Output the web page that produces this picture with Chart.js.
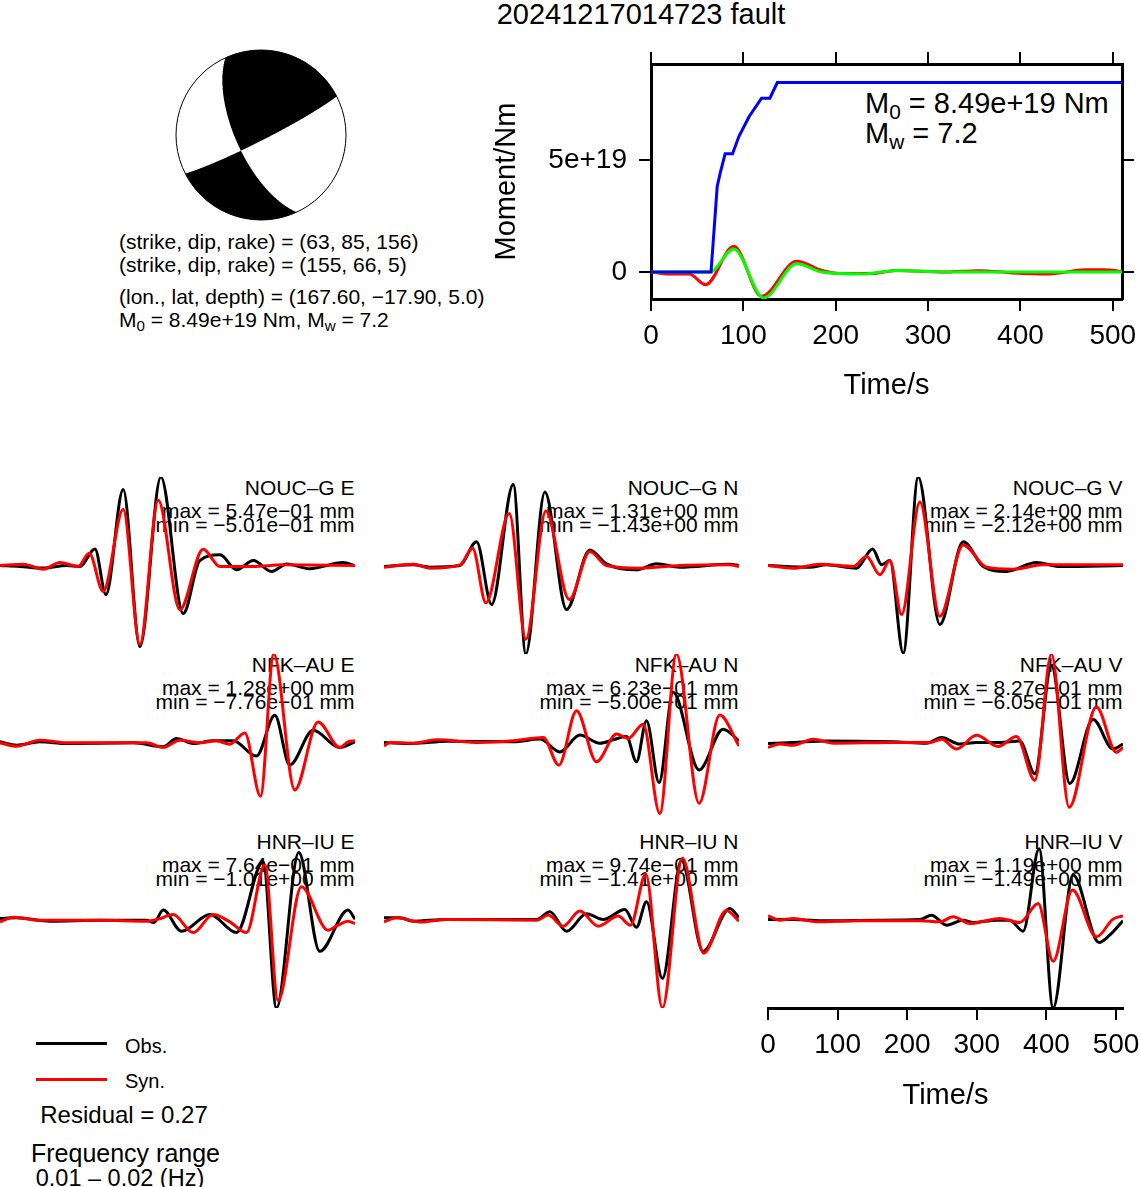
<!DOCTYPE html>
<html>
<head>
<meta charset="utf-8">
<title>20241217014723 fault</title>
<script src="https://cdn.jsdelivr.net/npm/chart.js@4.4.1/dist/chart.umd.min.js"></script>
<style>
  html, body { margin: 0; padding: 0; background: #fff; }
  body {
    position: relative; width: 1139px; height: 1187px; overflow: hidden;
    font-family: "Liberation Sans", Arial, Helvetica, sans-serif; color: #000;
  }
  canvas { position: absolute; z-index: 1; }
  .txt { position: absolute; white-space: nowrap; line-height: 1; z-index: 0; }
  .txt sub { font-size: 0.72em; vertical-align: -0.32em; line-height: 0; }
  .key { position: absolute; height: 2.5px; width: 71px; left: 36px; }
</style>
</head>
<body>
<script>
// ---- source parameters ------------------------------------------------
const eventId   = '20241217014723';
const plane1    = [63, 85, 156];      // strike, dip, rake
const plane2    = [155, 66, 5];
const location_ = [167.60, -17.90, 5.0];
const m0        = 8.49e19;
const mw        = 7.2;
const residual  = 0.27;
const freqBand  = [0.01, 0.02];

// ---- moment function (time s, moment Nm) ------------------------------
const timeTicks   = [0, 100, 200, 300, 400, 500];
const momentTicks = [0, 5e19];
const momentCum = [[0,0],[65,0],[71.7,3.84e19],[74.9,4.43e19],[80.3,5.30e19],[88.3,5.30e19],
  [95.1,6.07e19],[106.3,6.97e19],[119.7,7.79e19],[128.7,7.79e19],[136.8,8.49e19],[510,8.49e19]];
const rateRed = [[0,0],[18.8,-0.09e19],[41.3,-0.09e19],[59.2,-0.57e19],[89.7,1.15e19],[119.7,-1.09e19],
  [157.8,0.48e19],[184.8,0.07e19],[207.2,-0.07e19],[238.6,-0.07e19],[265.5,0.07e19],[319,0],
  [355,0.06e19],[391,-0.04e19],[431,-0.09e19],[470,0.1e19],[490,0.1e19],[510,0.03e19]];
const rateGreen = [[0,0],[63.7,0],[89.7,1.03e19],[122,-1.16e19],[157.8,0.37e19],[184.8,0],
  [229,-0.09e19],[265.5,0.07e19],[319,0],[510,0]];

// ---- waveforms (time s, displacement mm) ------------------------------
const stationNames = ['NOUC–G E','NOUC–G N','NOUC–G V','NFK–AU E','NFK–AU N','NFK–AU V','HNR–IU E','HNR–IU N','HNR–IU V'];
const ampMax = [0.547, 1.31, 2.14, 1.28, 0.623, 0.827, 0.764, 0.974, 1.19];
const ampMin = [-0.501, -1.43, -2.12, -0.776, -0.500, -0.605, -1.01, -1.41, -1.49];

const obsNoucE = [[0,0],[28.7,-0.006],[62.2,-0.016],[95.7,0],[114.8,-0.006],[136.4,0.102],[152.2,-0.180],
  [177,0.469],[201,-0.501],[231.1,0.547],[263.2,-0.297],[287,0.03],[316,0.066],[340,-0.027],[364,0.031],
  [390,-0.037],[412,0.01],[445,-0.02],[493,0.018],[510,0]];
const synNoucE = [[0,0],[33.5,0.008],[62.2,-0.023],[86.1,0.018],[112.4,-0.006],[128.2,0.076],[148.3,-0.160],
  [177,0.346],[201,-0.488],[227.3,0.404],[258.4,-0.273],[291.9,0.100],[315.8,-0.006],[363.7,-0.006],
  [406.7,0.004],[510,0]];
const obsNoucN = [[0,-0.016],[42.1,0.011],[66,-0.027],[109.1,0],[133,0.385],[154.6,-0.631],[185.7,1.31],
  [203.8,-1.43],[231.1,1.187],[262.2,-0.711],[295.7,0.251],[319.6,0.027],[362.7,-0.070],[391.4,0.027],
  [424.9,-0.027],[496.7,0.021],[510,0]];
const synNoucN = [[0,-0.027],[42.1,0.021],[66,-0.043],[109.1,0.011],[127.3,0.278],[146.4,-0.604],[180,0.840],
  [203.8,-1.19],[232.6,0.882],[266.1,-0.551],[295.7,0.225],[319.6,0],[367.5,-0.043],[424.9,0],
  [496.7,0.011],[510,-0.016]];
const obsNoucV = [[0,0],[60.3,-0.04],[84.2,0.016],[127.3,-0.064],[150.3,0.40],[163.2,0.016],[175.1,0.12],
  [194.3,-2.12],[215.8,2.14],[246.9,-1.426],[280.4,0.577],[309.1,-0.024],[342.6,-0.144],[385.7,0.072],
  [419.2,-0.024],[510,0]];
const synNoucV = [[0,0],[36.4,-0.064],[74.6,0.032],[122.5,-0.024],[141.6,0.216],[160.8,-0.224],[175.1,0.12],
  [191.9,-1.186],[218.2,1.538],[246.9,-1.226],[280.4,0.497],[313.9,-0.04],[352.2,-0.088],[395.2,0.016],
  [510,0.016]];
const obsNfkE = [[0,0.01],[23.9,-0.038],[57.4,0.01],[95.7,-0.014],[191.4,-0.005],[234.5,-0.062],[253.6,0.058],
  [277.5,-0.014],[306.2,0.024],[335,0.024],[368.4,-0.197],[394.8,0.393],[416.3,-0.326],[449.8,0.177],
  [488.1,-0.072],[510,0.01]];
const synNfkE = [[0,-0.005],[23.9,-0.053],[57.4,0.034],[95.7,-0.005],[210.5,-0.005],[234.5,-0.072],
  [258.4,0.034],[287.1,-0.005],[311,0.024],[330.2,-0.024],[351.7,0.139],[374.2,-0.776],[393.3,1.28],
  [423.5,-0.686],[457,0.297],[488.1,-0.072],[500,0.01],[510,0.024]];
const obsNfkN = [[0,0],[42.1,-0.007],[90,0.009],[185.7,0.005],[224,0.024],[252.7,-0.066],[281.4,0.052],
  [310.1,-0.005],[329.2,0.019],[348.4,0.042],[362.7,-0.136],[377.1,0.153],[395.2,-0.282],[415.3,0.353],
  [452.7,-0.193],[487.1,0.094],[510,0.012]];
const synNfkN = [[0,-0.024],[8.6,0],[42.1,-0.005],[75.6,0.019],[137.8,0],[185.7,0.012],[228.7,0.035],
  [251.2,-0.160],[276.6,0.224],[305.3,-0.136],[334,0.059],[350.7,0.028],[372.3,0.129],[396.2,-0.500],
  [420.1,0.623],[452.7,-0.428],[482.3,0.193],[510,-0.024]];
const obsNfkV = [[0,-0.009],[36.4,0],[84.2,0.015],[179.9,0.006],[227.8,-0.006],[249.3,0.046],[275.6,-0.015],
  [299.5,0],[333,0],[361.7,0.015],[383.3,-0.291],[407.2,0.72],[433.5,-0.383],[467,0.215],[495.7,-0.061],
  [510,-0.015]];
const synNfkV = [[0,-0.046],[17.2,-0.015],[36.4,-0.025],[65.1,0.031],[93.8,-0.006],[179.9,0],[232.5,0],
  [249.3,0.031],[270.8,-0.061],[299.5,0.067],[330.6,-0.037],[357,0.055],[383.3,-0.353],[407.2,0.827],
  [432.6,-0.605],[471.8,0.331],[500.5,-0.092],[510,-0.046]];
const obsHnrE = [[0,0.011],[23.9,0.019],[71.8,-0.019],[143.6,-0.008],[210.5,-0.008],[221.1,-0.034],
  [234.5,0.107],[260.8,-0.134],[301.5,0.057],[339.7,-0.149],[378,0.660],[397.2,-1.01],[429.2,0.764],
  [459.4,-0.363],[500,0.107],[510,0.004]];
const synHnrE = [[0,-0.027],[19.1,0.027],[57.4,-0.008],[143.6,-0.008],[210.5,-0.019],[227.3,0.004],
  [248.8,0.057],[277.5,-0.149],[306.2,0.057],[330.2,-0.027],[354.1,-0.149],[380.4,0.622],[399.5,-0.924],
  [433,0.374],[471.3,-0.122],[485.7,-0.065],[500,-0.019],[510,-0.046]];
const obsHnrN = [[0,0.027],[23,0.027],[42.1,-0.027],[90,0],[219.2,0],[238.3,0.123],[262.2,-0.188],
  [290.9,0.091],[314.9,0],[346,0.161],[362.7,-0.123],[377.1,0.284],[400,-0.938],[427.3,0.94],
  [458.4,-0.509],[496.7,0.177],[510,0.027]];
const synHnrN = [[0,-0.038],[18.2,0.027],[51.7,-0.038],[90,0],[219.2,-0.011],[235.9,0.070],[257.4,-0.107],
  [281.4,0.134],[307.7,-0.107],[336.4,0.054],[354.1,-0.091],[376.1,0.724],[400,-1.41],[428.7,0.974],
  [459.4,-0.536],[491.9,0.145],[510,-0.027]];
const obsHnrV = [[0,0],[36.4,0],[84.2,-0.022],[156,-0.011],[218.2,0],[234.9,0.073],[256.5,-0.096],
  [280.4,-0.011],[294.8,-0.051],[328.3,-0.011],[347.4,-0.011],[366.5,-0.197],[389.5,1.19],[409.6,-1.49],
  [438.3,0.748],[475.6,-0.388],[490.9,-0.264],[510,-0.022]];
const synHnrV = [[0,0.062],[17.2,-0.011],[36.4,0.017],[69.9,-0.039],[132.1,-0.022],[218.2,-0.022],
  [246.9,-0.039],[266,0.045],[290,-0.067],[333,0.017],[361.7,-0.051],[388.1,0.27],[409.6,-0.703],
  [437.4,0.495],[471.8,-0.292],[495.7,0.006],[510,0.062]];

const obsTraces = [obsNoucE, obsNoucN, obsNoucV, obsNfkE, obsNfkN, obsNfkV, obsHnrE, obsHnrN, obsHnrV];
const synTraces = [synNoucE, synNoucN, synNoucV, synNfkE, synNfkN, synNfkV, synHnrE, synHnrN, synHnrV];

// ---- layout -------------------------------------------------------------
const PAGE_W  = 1139;
const COL_X   = [0, 384, 768];
const ROW_TOP = [477, 654, 831];
const PANEL_W = 355;
const PANEL_H = 177;
const T_MAX   = 510;

const RED = '#ff0000', GREEN = '#00ff00', BLUE = '#0000ff', BLACK = '#000000';
const MINUS = '\u2212';

Chart.defaults.font.family = '"Liberation Sans", Arial, Helvetica, sans-serif';
Chart.defaults.color = BLACK;

const toXY = pts => pts.map(([x, y]) => ({ x, y }));

// 5.47e-01 style, as printed by the plotting code
function fmtE(v) {
  const [m, e] = v.toExponential(2).split('e');
  const n = parseInt(e, 10);
  return m.replace('-', MINUS) + 'e' + (n < 0 ? MINUS : '+') + String(Math.abs(n)).padStart(2, '0');
}
const fmtSigned = (v, d) => v.toFixed(d).replace('-', MINUS);

function addText(html, x, y, size, align) {
  const el = document.createElement('div');
  el.className = 'txt';
  el.innerHTML = html;
  el.style.fontSize = size + 'px';
  el.style.top = y + 'px';
  if (align === 'right') {
    el.style.right = (PAGE_W - x) + 'px';
    el.style.transform = 'translateY(-50%)';
  } else if (align === 'center') {
    el.style.left = x + 'px';
    el.style.transform = 'translate(-50%, -50%)';
  } else {
    el.style.left = x + 'px';
    el.style.transform = 'translateY(-50%)';
  }
  document.body.appendChild(el);
  return el;
}

function addCanvas(left, top, w, h) {
  const c = document.createElement('canvas');
  c.width = w; c.height = h;
  c.style.left = left + 'px'; c.style.top = top + 'px';
  c.style.width = w + 'px'; c.style.height = h + 'px';
  document.body.appendChild(c);
  return c;
}

const baseOptions = () => ({
  responsive: false,
  animation: false,
  events: [],
  plugins: { legend: { display: false }, tooltip: { enabled: false } },
  elements: { point: { radius: 0 } }
});

// ---- title and source text ----------------------------------------------
addText(eventId + ' fault', 641, 13.5, 29, 'center');
addText(`(strike, dip, rake) = (${plane1.join(', ')})`, 119, 241, 21, 'left');
addText(`(strike, dip, rake) = (${plane2.join(', ')})`, 119, 264, 21, 'left');
addText(`(lon., lat, depth) = (${fmtSigned(location_[0], 2)}, ${fmtSigned(location_[1], 2)}, ${fmtSigned(location_[2], 1)})`,
  119, 296, 21, 'left');
addText(`M<sub>0</sub> = ${m0.toExponential(2)} Nm, M<sub>w</sub> = ${mw.toFixed(1)}`, 119, 318.5, 21, 'left');

// ---- focal mechanism ----------------------------------------------------
function momentTensor([strike, dip, rake]) {
  const r = Math.PI / 180;
  const f = strike * r, d = dip * r, l = rake * r;
  const sd = Math.sin(d), cd = Math.cos(d), s2d = Math.sin(2 * d), c2d = Math.cos(2 * d);
  const sl = Math.sin(l), cl = Math.cos(l);
  const sf = Math.sin(f), cf = Math.cos(f), s2f = Math.sin(2 * f), c2f = Math.cos(2 * f);
  return {
    xx: -(sd * cl * s2f + s2d * sl * sf * sf),
    xy: sd * cl * c2f + 0.5 * s2d * sl * s2f,
    xz: -(cd * cl * cf + c2d * sl * sf),
    yy: sd * cl * s2f - s2d * sl * cf * cf,
    yz: -(cd * cl * sf - c2d * sl * cf),
    zz: s2d * sl
  };
}

// P amplitude on the lower hemisphere, equal-area projection (X east, Y north)
function pAmplitude(m, X, Y) {
  const rr = Math.hypot(X, Y);
  const inc = 2 * Math.asin(Math.min(1, rr / Math.SQRT2));
  const si = Math.sin(inc);
  const gn = rr > 1e-9 ? si * Y / rr : 0;
  const ge = rr > 1e-9 ? si * X / rr : 0;
  const gd = Math.cos(inc);
  return m.xx * gn * gn + m.yy * ge * ge + m.zz * gd * gd +
    2 * (m.xy * gn * ge + m.xz * gn * gd + m.yz * ge * gd);
}

const beachballPlugin = {
  id: 'beachball',
  afterDraw(chart) {
    const { ctx, chartArea: a, scales: { x, y } } = chart;
    const m = momentTensor(plane1);
    const w = Math.round(a.right - a.left), h = Math.round(a.bottom - a.top);
    const img = ctx.createImageData(w, h);
    const ss = 3;
    for (let py = 0; py < h; py++) {
      for (let px = 0; px < w; px++) {
        let hits = 0;
        for (let sy = 0; sy < ss; sy++) {
          for (let sx = 0; sx < ss; sx++) {
            const X = x.getValueForPixel(a.left + px + (sx + 0.5) / ss);
            const Y = y.getValueForPixel(a.top + py + (sy + 0.5) / ss);
            if (X * X + Y * Y > 1) continue;
            if (pAmplitude(m, X, Y) > 0) hits++;
          }
        }
        if (hits) img.data[4 * (py * w + px) + 3] = Math.round(255 * hits / (ss * ss));
      }
    }
    ctx.putImageData(img, a.left, a.top);
    const cx = x.getPixelForValue(0), cy = y.getPixelForValue(0);
    const R = x.getPixelForValue(1) - cx;
    ctx.save();
    ctx.beginPath();
    ctx.arc(cx, cy, R, 0, 2 * Math.PI);
    ctx.lineWidth = 1;
    ctx.strokeStyle = BLACK;
    ctx.stroke();
    ctx.restore();
  }
};

new Chart(addCanvas(174, 48, 174, 174), {
  type: 'scatter',
  data: { datasets: [] },
  options: Object.assign(baseOptions(), {
    layout: { padding: 2, autoPadding: false },
    scales: {
      x: { type: 'linear', min: -1, max: 1, display: false },
      y: { type: 'linear', min: -1, max: 1, display: false }
    }
  }),
  plugins: [beachballPlugin]
});

// ---- moment function chart ----------------------------------------------
const tickMarks = { display: true, drawOnChartArea: false, drawTicks: true, tickLength: 12, color: BLACK, lineWidth: 2 };
const frame = { display: true, color: BLACK, width: 3 };
const setMomentTicks = s => { s.ticks = momentTicks.map(v => ({ value: v })); };
const setTimeTicks = s => { s.ticks = timeTicks.map(v => ({ value: v })); };

// chart area: x 651..1122, y 64..299 on the page
new Chart(addCanvas(480, 34, 672, 366), {
  type: 'line',
  data: {
    datasets: [
      { data: toXY(momentCum), borderColor: BLUE, borderWidth: 3, tension: 0, order: 0 },
      { data: toXY(rateGreen), borderColor: GREEN, borderWidth: 3, cubicInterpolationMode: 'monotone', order: 1 },
      { data: toXY(rateRed), borderColor: RED, borderWidth: 3, cubicInterpolationMode: 'monotone', order: 2 }
    ]
  },
  options: Object.assign(baseOptions(), {
    layout: { padding: 0, autoPadding: false },
    scales: {
      x: {
        type: 'linear', position: 'bottom', min: 0, max: T_MAX,
        afterFit: s => { s.height = 101; },
        afterBuildTicks: setTimeTicks,
        border: frame, grid: tickMarks,
        ticks: { autoSkip: false, maxRotation: 0, padding: 8, font: { size: 28 } },
        title: { display: true, text: 'Time/s', font: { size: 29, lineHeight: 1 }, padding: { top: 0, bottom: 0 } }
      },
      x2: {
        type: 'linear', position: 'top', min: 0, max: T_MAX,
        afterFit: s => { s.height = 30; },
        afterBuildTicks: setTimeTicks,
        border: frame, grid: tickMarks,
        ticks: { display: false }
      },
      y: {
        type: 'linear', position: 'left', min: -1.21e19, max: 9.32e19,
        afterFit: s => { s.width = 171; },
        afterBuildTicks: setMomentTicks,
        border: frame, grid: tickMarks,
        ticks: { padding: 12, font: { size: 28 }, callback: v => v === 0 ? '0' : Number(v).toExponential() },
        title: { display: true, text: 'Moment/Nm', font: { size: 29, lineHeight: 1 }, padding: { top: 12.5, bottom: 0 } }
      },
      y2: {
        type: 'linear', position: 'right', min: -1.21e19, max: 9.32e19,
        afterFit: s => { s.width = 30; },
        afterBuildTicks: setMomentTicks,
        border: frame, grid: tickMarks,
        ticks: { display: false }
      }
    }
  })
});

addText(`M<sub>0</sub> = ${m0.toExponential(2)} Nm`, 865, 102.5, 29, 'left');
addText(`M<sub>w</sub> = ${mw.toFixed(1)}`, 865, 132.5, 29, 'left');

// ---- waveform panels ----------------------------------------------------
function drawPanel(i) {
  const r = Math.floor(i / 3), c = i % 3;
  const withAxis = i === 8;
  const pad = withAxis ? 34 : 0;
  const A = Math.max(ampMax[i], -ampMin[i]);
  const right = COL_X[c] + PANEL_W - 0.5;

  addText(stationNames[i], right, ROW_TOP[r] + 10.3, 21, 'right');
  addText(`max = ${fmtE(ampMax[i])} mm`, right, ROW_TOP[r] + 33.1, 21, 'right');
  addText(`min = ${fmtE(ampMin[i])} mm`, right, ROW_TOP[r] + 46.6, 21, 'right');

  const xScale = withAxis ? {
    type: 'linear', position: 'bottom', min: 0, max: T_MAX,
    afterFit: s => { s.height = 123; },
    afterBuildTicks: setTimeTicks,
    border: frame, grid: tickMarks,
    ticks: { autoSkip: false, maxRotation: 0, padding: 8, font: { size: 28 } },
    title: { display: true, text: 'Time/s', font: { size: 29, lineHeight: 1 }, padding: { top: 0, bottom: 21 } }
  } : { type: 'linear', min: 0, max: T_MAX, display: false };

  const canvas = addCanvas(COL_X[c] - pad, ROW_TOP[r], PANEL_W + 2 * pad, withAxis ? PANEL_H + 123 : PANEL_H);
  new Chart(canvas, {
    type: 'line',
    data: {
      datasets: [
        { label: 'Syn.', data: toXY(synTraces[i]), borderColor: RED, order: 0 },
        { label: 'Obs.', data: toXY(obsTraces[i]), borderColor: BLACK, order: 1 }
      ]
    },
    options: Object.assign(baseOptions(), {
      layout: { padding: { left: pad, right: pad, top: 0, bottom: 0 }, autoPadding: false },
      elements: {
        point: { radius: 0 },
        line: { borderWidth: 3, cubicInterpolationMode: 'monotone', fill: false }
      },
      scales: {
        x: xScale,
        y: { type: 'linear', min: -A, max: A, display: false }
      }
    })
  });
}
for (let i = 0; i < 9; i++) drawPanel(i);

// ---- key and fit summary ------------------------------------------------
function addKey(color, y) {
  const d = document.createElement('div');
  d.className = 'key';
  d.style.top = (y - 1.25) + 'px';
  d.style.background = color;
  document.body.appendChild(d);
}
addKey(BLACK, 1043.5);
addKey(RED, 1079.3);
addText('Obs.', 125, 1046, 20, 'left');
addText('Syn.', 125, 1080.5, 20, 'left');
addText(`Residual = ${residual.toFixed(2)}`, 124, 1115, 24, 'center');
addText('Frequency range', 125.5, 1152.5, 25, 'center');
addText(`${freqBand[0].toFixed(2)} – ${freqBand[1].toFixed(2)} (Hz)`, 120, 1179, 23.5, 'center');
</script>
</body>
</html>
